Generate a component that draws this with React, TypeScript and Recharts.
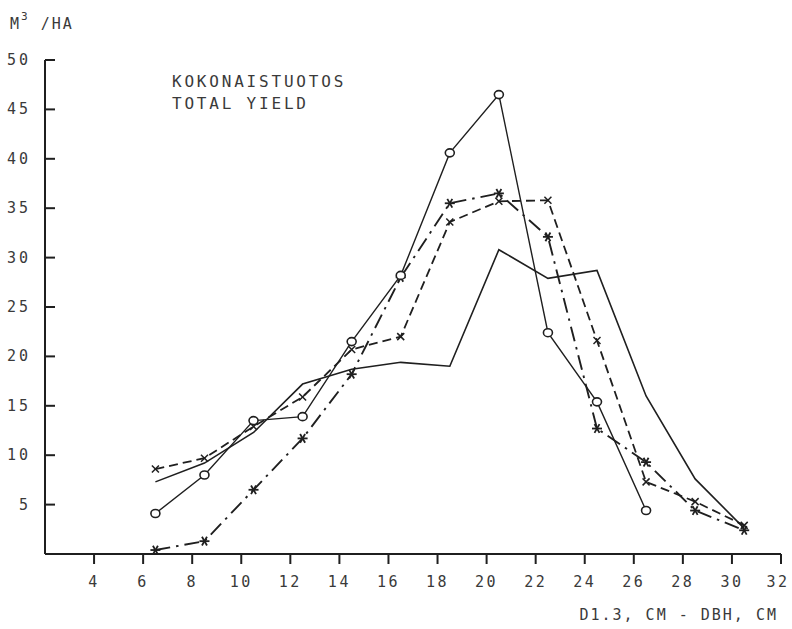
import React from 'react';
import { LineChart, Line, XAxis, YAxis } from 'recharts';

// diameter classes (cm), midpoints
const diameters = [6.5, 8.5, 10.5, 12.5, 14.5, 16.5, 18.5, 20.5, 22.5, 24.5, 26.5, 28.5, 30.5];

// m3/ha per diameter class, four stands
const circleSeries = [4.1, 8.0, 13.5, 13.9, 21.5, 28.2, 40.6, 46.5, 22.4, 15.4, 4.4, null, null];
const plainSeries = [7.3, 9.2, 12.3, 17.2, 18.7, 19.4, 19.0, 30.8, 27.9, 28.7, 16.0, 7.6, 2.6];
const crossSeries = [8.6, 9.7, 12.9, 15.9, 20.7, 22.0, 33.6, 35.7, 35.8, 21.6, 7.3, 5.3, 2.9];
const starSeries = [0.4, 1.3, 6.5, 11.7, 18.2, 28.0, 35.5, 36.5, 32.1, 12.7, 9.3, 4.4, 2.4];

const xTicks = [4, 6, 8, 10, 12, 14, 16, 18, 20, 22, 24, 26, 28, 30, 32];
const yTicks = [5, 10, 15, 20, 25, 30, 35, 40, 45, 50];

const data = diameters.map((d, i) => ({
  d,
  a: circleSeries[i],
  b: plainSeries[i],
  c: crossSeries[i],
  s: starSeries[i],
}));

const INK = '#1f1f1f';
const TEXT = '#3a3a3a';
const FONT = '"DejaVu Sans Mono", "Liberation Mono", monospace';

const CircleDot = ({ cx, cy }: any) => {
  if (cx == null || cy == null) return null;
  return <ellipse cx={cx} cy={cy} rx={4.5} ry={4} fill="#fff" stroke={INK} strokeWidth={1.6} />;
};

const CrossDot = ({ cx, cy }: any) => {
  if (cx == null || cy == null) return null;
  const r = 3.5;
  return (
    <g stroke={INK} strokeWidth={1.5}>
      <line x1={cx - r} y1={cy - r} x2={cx + r} y2={cy + r} />
      <line x1={cx - r} y1={cy + r} x2={cx + r} y2={cy - r} />
    </g>
  );
};

const StarDot = ({ cx, cy }: any) => {
  if (cx == null || cy == null) return null;
  const r = 5;
  return (
    <g stroke={INK} strokeWidth={1.8}>
      <line x1={cx - r} y1={cy} x2={cx + r} y2={cy} />
      <line x1={cx - r * 0.5} y1={cy - r * 0.87} x2={cx + r * 0.5} y2={cy + r * 0.87} />
      <line x1={cx - r * 0.5} y1={cy + r * 0.87} x2={cx + r * 0.5} y2={cy - r * 0.87} />
    </g>
  );
};

const YTick = ({ x, y, payload }: any) => (
  <g>
    <line x1={x} x2={x + 10} y1={y} y2={y} stroke={INK} strokeWidth={2} />
    <text x={x - 14} y={y} dy={5} textAnchor="end" fill={TEXT} fontSize={15} fontFamily={FONT} letterSpacing={3}>
      {payload.value}
    </text>
  </g>
);

const XTick = ({ x, y, payload }: any) => (
  <g>
    <line x1={x} x2={x} y1={y} y2={y + 10} stroke={INK} strokeWidth={2} />
    <text x={Math.min(x, 778)} y={y + 33} textAnchor="middle" fill={TEXT} fontSize={15} fontFamily={FONT} letterSpacing={2.5}>
      {payload.value}
    </text>
  </g>
);

export default function App() {
  return (
    <div style={{ position: 'absolute', left: 0, top: 0, width: 792, height: 629, background: '#fff' }}>
      <LineChart width={792} height={629} data={data} margin={{ top: 60, right: 11, bottom: 74, left: 44 }}>
        <XAxis
          dataKey="d"
          type="number"
          domain={[2, 32]}
          ticks={xTicks}
          height={1}
          tickSize={0}
          tickMargin={0}
          tickLine={false}
          axisLine={{ stroke: INK, strokeWidth: 2 }}
          tick={<XTick />}
          interval={0}
        />
        <YAxis
          type="number"
          domain={[0, 50]}
          ticks={yTicks}
          width={1}
          tickSize={0}
          tickMargin={0}
          tickLine={false}
          axisLine={{ stroke: INK, strokeWidth: 2 }}
          tick={<YTick />}
          interval={0}
        />
        <Line dataKey="b" stroke={INK} strokeWidth={1.6} dot={false} isAnimationActive={false} type="linear" />
        <Line dataKey="c" stroke={INK} strokeWidth={1.8} strokeDasharray="9 5" dot={<CrossDot />} isAnimationActive={false} type="linear" />
        <Line dataKey="s" stroke={INK} strokeWidth={1.9} strokeDasharray="15 6 2.5 6" dot={<StarDot />} isAnimationActive={false} type="linear" />
        <Line dataKey="a" stroke={INK} strokeWidth={1.4} dot={<CircleDot />} isAnimationActive={false} type="linear" />
      </LineChart>
      <svg width={792} height={629} style={{ position: 'absolute', left: 0, top: 0, pointerEvents: 'none' }}>
        <text x={10} y={29} fill={TEXT} fontSize={15} fontFamily={FONT} letterSpacing={2}>
          M<tspan dy={-9} fontSize={11}>3</tspan>
          <tspan dy={9}> /HA</tspan>
        </text>
        <text x={172} y={87} fill={TEXT} fontSize={16} fontFamily={FONT} letterSpacing={2.8}>
          KOKONAISTUOTOS
        </text>
        <text x={172} y={109} fill={TEXT} fontSize={16} fontFamily={FONT} letterSpacing={2.8}>
          TOTAL YIELD
        </text>
        <text x={778} y={620} textAnchor="end" fill={TEXT} fontSize={15} fontFamily={FONT} letterSpacing={2}>
          D1.3, CM - DBH, CM
        </text>
      </svg>
    </div>
  );
}
